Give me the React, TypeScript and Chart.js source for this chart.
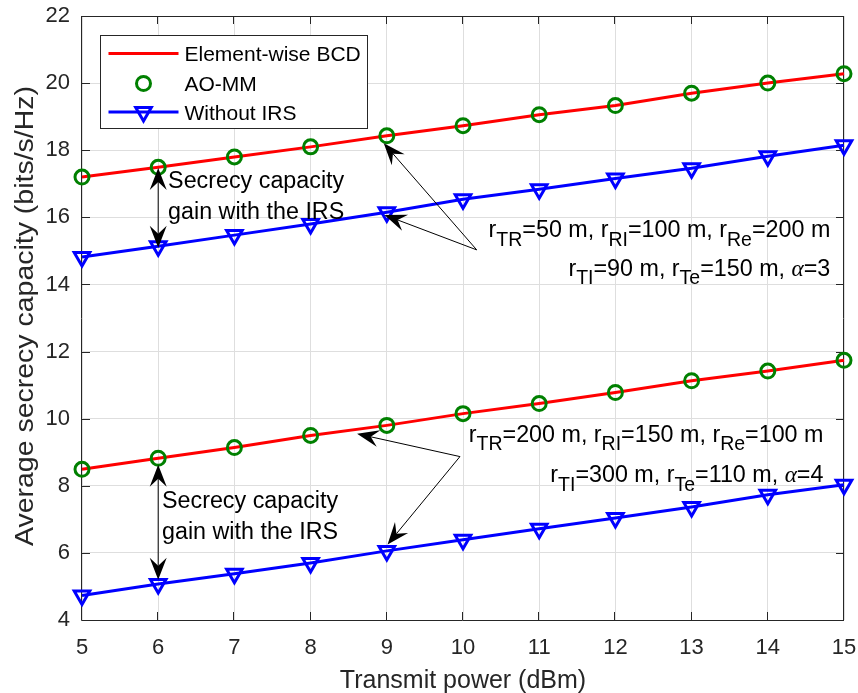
import { useEffect, useRef } from "react";
import { Chart, registerables } from "chart.js";

Chart.register(...registerables);

// Transmit power sweep (dBm)
const power = [5, 6, 7, 8, 9, 10, 11, 12, 13, 14, 15];

// Scenario A: rTR=50, rRI=100, rRe=200, rTI=90, rTe=150, alpha=3
const bcdA = [17.2, 17.49, 17.8, 18.1, 18.43, 18.73, 19.06, 19.33, 19.7, 20.0, 20.28];
const aommA = [17.2, 17.49, 17.8, 18.1, 18.43, 18.73, 19.06, 19.33, 19.7, 20.0, 20.28];
const noIrsA = [14.82, 15.14, 15.47, 15.8, 16.15, 16.54, 16.84, 17.16, 17.46, 17.82, 18.15];

// Scenario B: rTR=200, rRI=150, rRe=100, rTI=300, rTe=110, alpha=4
const bcdB = [8.49, 8.82, 9.14, 9.5, 9.8, 10.15, 10.45, 10.78, 11.13, 11.42, 11.74];
const aommB = [8.49, 8.82, 9.14, 9.5, 9.8, 10.15, 10.45, 10.78, 11.13, 11.42, 11.74];
const noIrsB = [4.73, 5.07, 5.38, 5.7, 6.06, 6.39, 6.72, 7.04, 7.37, 7.73, 8.03];

const yTicks = [4, 6, 8, 10, 12, 14, 16, 18, 20, 22];
const xTicks = power;

const legendLabels = ["Element-wise BCD", "AO-MM", "Without IRS"];
const xTitle = "Transmit power (dBm)";
const yTitle = "Average secrecy capacity (bits/s/Hz)";

// Annotation anchors, in data units
const gainArrows = [
  { x: 6, top: 17.47, bottom: 15.09 },
  { x: 6, top: 8.63, bottom: 5.2 },
];
const gainText = [
  { x: 6.13, y: 17.11, text: "Secrecy capacity" },
  { x: 6.13, y: 16.2, text: "gain with the IRS" },
  { x: 6.05, y: 7.59, text: "Secrecy capacity" },
  { x: 6.05, y: 6.66, text: "gain with the IRS" },
];
const pointerArrows = [
  { tail: [10.18, 15.03], tips: [[8.96, 18.21], [8.97, 16.07]] },
  { tail: [9.96, 8.87], tips: [[8.61, 9.55], [9.01, 6.25]] },
];

type Piece = { t: string; sub?: boolean; greek?: boolean };
const paramText: { x: number; y: number; pieces: Piece[] }[] = [
  {
    x: 14.82,
    y: 15.65,
    pieces: [
      { t: "r" }, { t: "TR", sub: true }, { t: "=50 m, r" }, { t: "RI", sub: true },
      { t: "=100 m, r" }, { t: "Re", sub: true }, { t: "=200 m" },
    ],
  },
  {
    x: 14.82,
    y: 14.51,
    pieces: [
      { t: "r" }, { t: "TI", sub: true }, { t: "=90 m, r" }, { t: "Te", sub: true },
      { t: "=150 m, " }, { t: "α", greek: true }, { t: "=3" },
    ],
  },
  {
    x: 14.73,
    y: 9.56,
    pieces: [
      { t: "r" }, { t: "TR", sub: true }, { t: "=200 m, r" }, { t: "RI", sub: true },
      { t: "=150 m, r" }, { t: "Re", sub: true }, { t: "=100 m" },
    ],
  },
  {
    x: 14.73,
    y: 8.36,
    pieces: [
      { t: "r" }, { t: "TI", sub: true }, { t: "=300 m, r" }, { t: "Te", sub: true },
      { t: "=110 m, " }, { t: "α", greek: true }, { t: "=4" },
    ],
  },
];

const SANS = '"Liberation Sans", Arial, Helvetica, sans-serif';
const AXIS_COLOR = "#262626";
const GRID_COLOR = "#dedede";
const RED = "#ff0000";
const GREEN = "#008000";
const BLUE = "#0000ff";
const NOTE_SIZE = 23.3;

const pts = (ys: number[]) => power.map((x, i) => ({ x, y: ys[i] }));

function arrowHead(ctx: CanvasRenderingContext2D, tx: number, ty: number, fx: number, fy: number) {
  const L = 22, W = 17, notch = 14;
  const dx = tx - fx, dy = ty - fy;
  const len = Math.hypot(dx, dy);
  const ux = dx / len, uy = dy / len;
  const nx = -uy, ny = ux;
  ctx.beginPath();
  ctx.moveTo(tx, ty);
  ctx.lineTo(tx - ux * L + (nx * W) / 2, ty - uy * L + (ny * W) / 2);
  ctx.lineTo(tx - ux * notch, ty - uy * notch);
  ctx.lineTo(tx - ux * L - (nx * W) / 2, ty - uy * L - (ny * W) / 2);
  ctx.closePath();
  ctx.fill();
}

function fontFor(p: Piece) {
  if (p.greek) return `italic ${NOTE_SIZE}px "Liberation Serif", "DejaVu Serif", serif`;
  if (p.sub) return `19.5px ${SANS}`;
  return `${NOTE_SIZE}px ${SANS}`;
}

const framePlugin = {
  id: "frame",
  beforeDatasetsDraw(chart: any) {
    const { ctx, chartArea } = chart;
    const { left, right, top, bottom } = chartArea;
    const xs = chart.scales.x, ys = chart.scales.y;
    ctx.save();
    ctx.strokeStyle = AXIS_COLOR;
    ctx.lineWidth = 1;
    ctx.beginPath();
    ctx.rect(Math.round(left) - 0.5, Math.round(top) + 0.5, Math.round(right - left), Math.round(bottom - top));
    ctx.stroke();
    const tl = 8;
    ctx.beginPath();
    for (const v of xTicks) {
      const px = Math.round(xs.getPixelForValue(v)) - 0.5;
      ctx.moveTo(px, bottom);
      ctx.lineTo(px, bottom - tl);
      ctx.moveTo(px, top);
      ctx.lineTo(px, top + tl);
    }
    for (const v of yTicks) {
      const py = Math.round(ys.getPixelForValue(v)) + 0.5;
      ctx.moveTo(left, py);
      ctx.lineTo(left + tl, py);
      ctx.moveTo(right, py);
      ctx.lineTo(right - tl, py);
    }
    ctx.stroke();

    // vertical axis title, stretched along its length
    ctx.fillStyle = AXIS_COLOR;
    ctx.font = `25px ${SANS}`;
    ctx.textAlign = "center";
    ctx.textBaseline = "middle";
    const w = ctx.measureText(yTitle).width;
    ctx.translate(26, (top + bottom) / 2 - 2);
    ctx.rotate(-Math.PI / 2);
    ctx.scale(460 / w, 1);
    ctx.fillText(yTitle, 0, 0);
    ctx.restore();
  },
};

const annotationPlugin = {
  id: "notes",
  afterDatasetsDraw(chart: any) {
    const { ctx } = chart;
    const xs = chart.scales.x, ys = chart.scales.y;
    const X = (v: number) => xs.getPixelForValue(v);
    const Y = (v: number) => ys.getPixelForValue(v);
    ctx.save();
    ctx.strokeStyle = "#000";
    ctx.fillStyle = "#000";
    ctx.lineWidth = 1;

    // double-headed gain arrows
    for (const a of gainArrows) {
      const x = X(a.x), y1 = Y(a.top), y2 = Y(a.bottom);
      ctx.beginPath();
      ctx.moveTo(x, y1 + 14);
      ctx.lineTo(x, y2 - 14);
      ctx.stroke();
      arrowHead(ctx, x, y1, x, y2);
      arrowHead(ctx, x, y2, x, y1);
    }

    // pointer arrows from parameter labels to the curves
    for (const p of pointerArrows) {
      const tx = X(p.tail[0]), ty = Y(p.tail[1]);
      for (const tip of p.tips) {
        const hx = X(tip[0]), hy = Y(tip[1]);
        const dx = hx - tx, dy = hy - ty;
        const len = Math.hypot(dx, dy);
        ctx.beginPath();
        ctx.moveTo(tx, ty);
        ctx.lineTo(hx - (dx / len) * 14, hy - (dy / len) * 14);
        ctx.stroke();
        arrowHead(ctx, hx, hy, tx, ty);
      }
    }

    // gain captions
    ctx.font = `${NOTE_SIZE}px ${SANS}`;
    ctx.textAlign = "left";
    ctx.textBaseline = "alphabetic";
    for (const g of gainText) {
      ctx.fillText(g.text, X(g.x), Y(g.y) + 0.358 * NOTE_SIZE);
    }

    // parameter captions with subscripts, right aligned
    for (const line of paramText) {
      let total = 0;
      for (const p of line.pieces) {
        ctx.font = fontFor(p);
        total += ctx.measureText(p.t).width;
      }
      let cx = X(line.x) - total;
      const base = Y(line.y) + 0.358 * NOTE_SIZE;
      for (const p of line.pieces) {
        ctx.font = fontFor(p);
        ctx.fillText(p.t, cx, p.sub ? base + 8.5 : base);
        cx += ctx.measureText(p.t).width;
      }
    }
    ctx.restore();
  },
};

const legendPlugin = {
  id: "boxLegend",
  afterDraw(chart: any) {
    const { ctx, chartArea } = chart;
    const bx = Math.round(chartArea.left) + 18.5;
    const by = Math.round(chartArea.top) + 19.5;
    const bw = 267, bh = 93;
    ctx.save();
    ctx.fillStyle = "#fff";
    ctx.fillRect(bx, by, bw, bh);
    ctx.strokeStyle = AXIS_COLOR;
    ctx.lineWidth = 1;
    ctx.strokeRect(bx, by, bw, bh);
    const rows = [by + 18, by + 48, by + 76.5];
    const l0 = bx + 8, l1 = bx + 78, mx = bx + 43;
    ctx.lineWidth = 3;
    // Element-wise BCD
    ctx.strokeStyle = RED;
    ctx.beginPath();
    ctx.moveTo(l0, rows[0]);
    ctx.lineTo(l1, rows[0]);
    ctx.stroke();
    // AO-MM
    ctx.strokeStyle = GREEN;
    ctx.beginPath();
    ctx.arc(mx, rows[1], 7, 0, Math.PI * 2);
    ctx.stroke();
    // Without IRS
    ctx.strokeStyle = BLUE;
    ctx.beginPath();
    ctx.moveTo(l0, rows[2]);
    ctx.lineTo(l1, rows[2]);
    ctx.stroke();
    const r = 9;
    ctx.beginPath();
    ctx.moveTo(mx, rows[2] + r);
    ctx.lineTo(mx - r * 0.866, rows[2] - r / 2);
    ctx.lineTo(mx + r * 0.866, rows[2] - r / 2);
    ctx.closePath();
    ctx.stroke();

    ctx.fillStyle = "#000";
    ctx.font = `21px ${SANS}`;
    ctx.textBaseline = "alphabetic";
    legendLabels.forEach((t, i) => ctx.fillText(t, bx + 84, rows[i] + 0.358 * 21));
    ctx.restore();
  },
};

// keep the plot box fixed: drop the automatic label overhang padding
const noOverhang = (s: any) => {
  s.paddingTop = 0;
  s.paddingBottom = 0;
  s.paddingLeft = 0;
  s.paddingRight = 0;
};

export default function App() {
  const ref = useRef<HTMLCanvasElement | null>(null);

  useEffect(() => {
    if (!ref.current) return;
    const lineSet = (ys: number[], color: string, order: number) => ({
      data: pts(ys),
      borderColor: color,
      borderWidth: 3,
      pointRadius: 0,
      fill: false,
      tension: 0,
      clip: false as any,
      order,
    });
    const circleSet = (ys: number[]) => ({
      data: pts(ys),
      showLine: false,
      pointStyle: "circle",
      pointRadius: 7,
      pointBorderWidth: 3,
      pointBorderColor: GREEN,
      pointBackgroundColor: "rgba(0,0,0,0)",
      clip: false as any,
      order: 0,
    });
    const triSet = (ys: number[]) => ({
      data: pts(ys),
      borderColor: BLUE,
      borderWidth: 3,
      pointStyle: "triangle",
      pointRotation: 180,
      pointRadius: 9,
      pointBorderWidth: 3,
      pointBorderColor: BLUE,
      pointBackgroundColor: "rgba(0,0,0,0)",
      fill: false,
      tension: 0,
      clip: false as any,
      order: 2,
    });

    const chart = new Chart(ref.current, {
      type: "line",
      data: {
        datasets: [
          { label: legendLabels[0], ...lineSet(bcdA, RED, 1) },
          { label: legendLabels[0], ...lineSet(bcdB, RED, 1) },
          { label: legendLabels[1], ...circleSet(aommA) },
          { label: legendLabels[1], ...circleSet(aommB) },
          { label: legendLabels[2], ...triSet(noIrsA) },
          { label: legendLabels[2], ...triSet(noIrsB) },
        ] as any,
      },
      options: {
        animation: false,
        responsive: true,
        maintainAspectRatio: false,
        layout: { padding: { top: 16, right: 14, left: 0, bottom: 0 } },
        plugins: { legend: { display: false }, tooltip: { enabled: false } },
        scales: {
          x: {
            type: "linear",
            min: 5,
            max: 15,
            afterBuildTicks: (s: any) => {
              s.ticks = xTicks.map((v) => ({ value: v }));
            },
            ticks: { font: { family: SANS, size: 22 }, color: AXIS_COLOR, padding: 15, maxRotation: 0 },
            grid: { color: GRID_COLOR, drawTicks: false, lineWidth: 1 },
            border: { display: false },
            title: {
              display: true,
              text: xTitle,
              font: { family: SANS, size: 25 },
              color: AXIS_COLOR,
              padding: { top: 0, bottom: -3 },
            },
            afterFit: (s: any) => {
              s.height = 73;
              noOverhang(s);
            },
          },
          y: {
            type: "linear",
            min: 4,
            max: 22,
            afterBuildTicks: (s: any) => {
              s.ticks = yTicks.map((v) => ({ value: v }));
            },
            ticks: { font: { family: SANS, size: 22 }, color: AXIS_COLOR, padding: 12 },
            grid: { color: GRID_COLOR, drawTicks: false, lineWidth: 1 },
            border: { display: false },
            title: { display: false },
            afterFit: (s: any) => {
              s.width = 82;
              noOverhang(s);
            },
          },
        },
      } as any,
      plugins: [framePlugin, annotationPlugin, legendPlugin],
    });
    return () => chart.destroy();
  }, []);

  return (
    <div style={{ position: "fixed", left: 0, top: 0, width: 858, height: 693, background: "#fff" }}>
      <canvas ref={ref} />
    </div>
  );
}
